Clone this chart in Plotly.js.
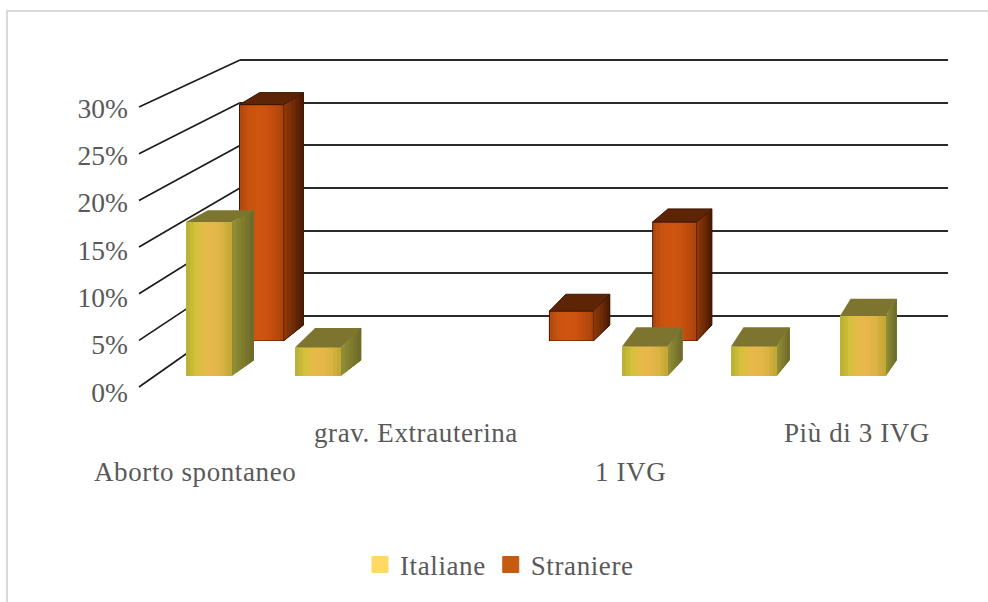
<!DOCTYPE html>
<html><head><meta charset="utf-8">
<script src="https://cdn.plot.ly/plotly-3.0.1.min.js"></script>
<style>html,body{margin:0;padding:0;background:#fff}
.annotation-text,.legendtext{letter-spacing:.6px}</style></head>
<body><div id="chart" style="width:988px;height:602px"></div>
<script>
// ---- data ----
const categories = ["Aborto spontaneo", "", "grav. Extrauterina", "", "1 IVG", "", "Più di 3 IVG"];
const italiane  = [16.7, 3.1, null, null, 3.2, 3.2, 6.5];
const straniere = [26.8, null, null, 3.4, 13.5, null, null];
const percentTicks = [0, 5, 10, 15, 20, 25, 30];
const percentLabels = ["0%", "5%", "10%", "15%", "20%", "25%", "30%"];

// ---- geometry ----
const W = 988, H = 602;
const dx = p => p / W, dy = p => 1 - p / H;
const FONT = "Liberation Serif, Times New Roman, serif", GREY = "#595959";
const idx = categories.map((_, i) => i);

// colour ramp helper for the shaded faces
function ramp(stops, n) {
  const rgb = s => [1, 3, 5].map(i => parseInt(s.substr(i, 2), 16));
  return Array.from({ length: n }, (_, i) => {
    const t = i / (n - 1) * (stops.length - 1), a = Math.min(Math.floor(t), stops.length - 2), f = t - a;
    const A = rgb(stops[a]), B = rgb(stops[a + 1]);
    return "rgb(" + A.map((c, j) => Math.round(c + (B[j] - c) * f)).join(",") + ")";
  });
}

// front row (Italiane) and back row (Straniere) planes
const rows = {
  it: { base: 376, perPct: 9.22, cx0: 209, step: 109, w: 46, xa: "x4", ya: "y4", dyBase: 16,
        stops: ["#bdb234","#d6c23c","#e6ba48","#e8b64c","#dcb444","#c4a838"],
        side: ["#8f8c33","#7f7c2e","#6f6b2c"], top: "#7d7430", line: null,
        depthX: k => 22 - 1.9 * k, depthY: v => 21 - 0.55 * v },
  st: { base: 341, perPct: 8.82, cx0: 261.5, step: 103.3, w: 44, xa: "x3", ya: "y3", dyBase: 16,
        stops: ["#b5490c","#c9540f","#cf5512","#cc5210","#bf4c0d","#ad440a"],
        side: ["#8a3607","#6e2b06","#4f1d03"], top: "#5e2406", line: "#3f1703",
        depthX: k => 20 - 1.2 * k, depthY: v => Math.max(12, 18 - 0.37 * v) }
};
const L = 100, R = 950, T = 50;
function axesFor(r) {
  return {
    x: { domain: [dx(L), dx(R)], range: [(L - r.cx0) / r.step, (R - r.cx0) / r.step], visible: false, fixedrange: true },
    y: { domain: [dy(r.base), dy(T)], range: [0, (r.base - T) / r.perPct], visible: false, fixedrange: true }
  };
}

const traces = [];

// back wall gridlines live on the x/y axes
traces.push({ type: "scatter", x: [0], y: [0], mode: "none", xaxis: "x", yaxis: "y", showlegend: false, hoverinfo: "skip" });

// oblique side-wall lines, on a page-sized helper axis
percentTicks.forEach(v => {
  traces.push({
    type: "scatter", mode: "lines", xaxis: "x2", yaxis: "y2", showlegend: false, hoverinfo: "skip",
    x: [139, 240], y: [387 - v * 9.33, 316 - v * 8.53],
    line: { color: "#1c1c1c", width: 1.7 }
  });
});

function addRow(r, values, name) {
  // gradient of the front face: narrow bars over the same values
  const unit = r.w / r.step, cols = ramp(r.stops, 12), n = cols.length;
  cols.forEach((c, i) => {
    traces.push({
      type: "bar", x: idx, y: values, xaxis: r.xa, yaxis: r.ya, name, showlegend: false,
      width: unit * (n - i) / n, offset: -unit / 2 + i * unit / n,
      marker: { color: c, line: { width: 0 } }
    });
  });
  if (r.line) traces.push({
    type: "bar", x: idx, y: values, xaxis: r.xa, yaxis: r.ya, name, showlegend: false, hoverinfo: "skip",
    width: unit, offset: -unit / 2,
    marker: { color: "rgba(0,0,0,0)", line: { width: 1, color: r.line } }
  });
  // side and top faces, expressed in the same data units
  values.forEach((v, k) => {
    if (v === null) return;
    const hw = unit / 2, ddx = r.depthX(k) / r.step, dt = r.depthY(v) / r.perPct, db = r.dyBase / r.perPct;
    const sideCols = ramp(r.side, 5), m = sideCols.length;
    // painted back-to-front as shrinking polygons so no seams appear between shades
    sideCols.forEach((c, i) => {
      const a = i / m;
      traces.push({
        type: "scatter", mode: "lines", fill: "toself", fillcolor: c, line: { width: 0 }, xaxis: r.xa, yaxis: r.ya,
        showlegend: false, hoverinfo: "skip",
        x: [k + hw + a * ddx, k + hw + ddx, k + hw + ddx, k + hw + a * ddx, k + hw + a * ddx],
        y: [a * db, db, v + dt, v + a * dt, a * db]
      });
    });
    traces.push({
      type: "scatter", mode: "lines", fill: "toself", fillcolor: r.top, line: { width: 0 }, xaxis: r.xa, yaxis: r.ya,
      showlegend: false, hoverinfo: "skip",
      x: [k - hw, k + hw, k + hw + ddx, k - hw + ddx, k - hw], y: [v, v, v + dt, v + dt, v]
    });
    if (r.line) traces.push({
      type: "scatter", mode: "lines", line: { color: r.line, width: 1 }, xaxis: r.xa, yaxis: r.ya,
      showlegend: false, hoverinfo: "skip",
      x: [k + hw, k + hw + ddx, k + hw + ddx, k - hw + ddx, k - hw, k + hw, k + hw + ddx],
      y: [0, db, v + dt, v + dt, v, v, v + dt]
    });
  });
}
addRow(rows.st, straniere, "Straniere");
addRow(rows.it, italiane, "Italiane");

// value labels axis + legend entries
traces.push({ type: "scatter", x: [null], y: [null], mode: "markers", name: "Italiane", xaxis: "x5", yaxis: "y5",
  marker: { symbol: "square", size: 16, color: "#ffd966", line: { width: 1, color: "#ffd966" } }, hoverinfo: "skip" });
traces.push({ type: "scatter", x: [null], y: [null], mode: "markers", name: "Straniere", xaxis: "x5", yaxis: "y5",
  marker: { symbol: "square", size: 16, color: "#c55a11", line: { width: 1, color: "#c55a11" } }, hoverinfo: "skip" });
traces.push({ type: "scatter", x: [0], y: [0], mode: "none", xaxis: "x5", yaxis: "y5", showlegend: false, hoverinfo: "skip" });

// category labels: two staggered rows
const labelRowY = [472, null, 433, null, 472, null, 433];
const labelShift = [-14, 0, -11, 0, -15, 0, -6];
const annotations = categories.map((c, k) => c ? ({
  text: c, xref: "x4", x: k, xshift: labelShift[k], yref: "paper", y: dy(labelRowY[k]),
  showarrow: false, xanchor: "center", yanchor: "middle",
  font: { family: FONT, size: 27, color: GREY }
}) : null).filter(Boolean);

const aSt = axesFor(rows.st), aIt = axesFor(rows.it);
const layout = {
  width: W, height: H, margin: { l: 0, r: 0, t: 0, b: 0 },
  paper_bgcolor: "#fff", plot_bgcolor: "rgba(0,0,0,0)", barmode: "overlay", hovermode: false,
  font: { family: FONT, color: GREY },
  // back wall (range padded so that the 0% and 30% gridlines are kept)
  xaxis: { domain: [dx(240), dx(948)], range: [0, 1], showticklabels: false, showgrid: false, zeroline: false, ticks: "", fixedrange: true },
  yaxis: { domain: [dy(316 + 8.53), dy(60 - 8.53)], range: [-1, 31], tickvals: percentTicks, showticklabels: false, showgrid: true,
           gridcolor: "#2a2a2a", gridwidth: 1.7, zeroline: false, ticks: "", showline: false, fixedrange: true },
  // page helper
  xaxis2: { domain: [0, 1], range: [0, W], visible: false, fixedrange: true },
  yaxis2: { domain: [0, 1], range: [H, 0], visible: false, fixedrange: true },
  xaxis3: aSt.x, yaxis3: aSt.y, xaxis4: aIt.x, yaxis4: aIt.y,
  // visible value labels
  xaxis5: { domain: [dx(139), dx(240)], range: [0, 1], visible: false, fixedrange: true },
  yaxis5: { domain: [dy(392), dy(108)], range: [0, 30], anchor: "x5", tickvals: percentTicks, ticktext: percentLabels,
            showgrid: false, zeroline: false, showline: false, ticks: "", ticklabelstandoff: 10,
            tickfont: { family: FONT, size: 27.5, color: GREY }, fixedrange: true },
  showlegend: true,
  legend: { orientation: "h", x: dx(360), xanchor: "left", y: dy(565), yanchor: "middle",
            font: { family: FONT, size: 27, color: GREY }, bgcolor: "rgba(0,0,0,0)", itemclick: false, itemdoubleclick: false },
  shapes: [
    { type: "line", xref: "paper", yref: "paper", x0: dx(7), x1: 1, y0: dy(11), y1: dy(11), line: { color: "#d9d9d9", width: 2 } },
    { type: "line", xref: "paper", yref: "paper", x0: dx(7), x1: dx(7), y0: dy(10), y1: 0, line: { color: "#d9d9d9", width: 2 } }
  ],
  annotations
};
Plotly.newPlot("chart", traces, layout, { displayModeBar: false, responsive: false });
</script></body></html>
